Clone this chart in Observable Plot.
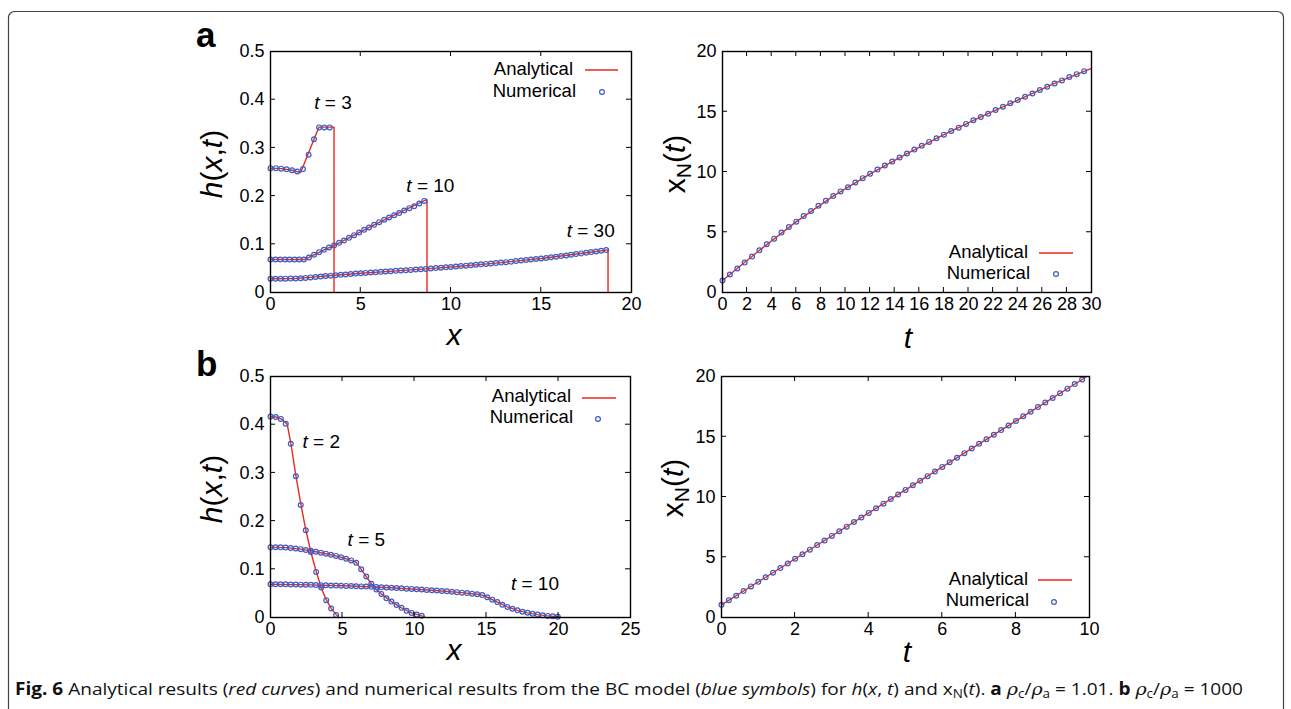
<!DOCTYPE html>
<html><head><meta charset="utf-8">
<script src="https://cdn.jsdelivr.net/npm/d3@7"></script>
<script src="https://cdn.jsdelivr.net/npm/@observablehq/plot@0.6"></script>
<style>
html,body{margin:0;padding:0;background:#fff;}
#page{position:relative;width:1291px;height:709px;overflow:hidden;font-family:"Liberation Sans",Arial,sans-serif;}
#page > svg{position:absolute;}
</style></head>
<body><div id="page"></div>
<script>
// ---------- DATA ----------
// Panel a (rho_c/rho_a = 1.01): h(x,t)
const aTicksX = [0, 5, 10, 15, 20];
const hTicks = [0, 0.1, 0.2, 0.3, 0.4, 0.5];
const a3Line = [[0,0.258],[0.6,0.257],[1.2,0.2535],[1.67,0.249],[2.68,0.343],[3.52,0.343],[3.52,0]];
const a3X = [0,0.30,0.59,0.89,1.19,1.48,1.80,2.11,2.41,2.69,2.98,3.28];
const a3H = [0.258,0.258,0.257,0.2555,0.2535,0.251,0.256,0.286,0.318,0.3425,0.3425,0.3425];
const a10Line = [[0,0.0685],[1.9,0.0685],[2.41,0.0782],[2.96,0.0885],[3.52,0.0975],[4.63,0.119],[5.74,0.1404],[6.85,0.1604],[7.96,0.180],[8.67,0.193],[8.67,0]];
const a10X = [0,0.28,0.54,0.80,1.06,1.33,1.59,1.85,2.13,2.41,2.69,2.96,3.24,3.52,3.80,4.07,4.35,4.63,4.91,5.19,5.46,5.74,6.02,6.30,6.57,6.85,7.13,7.41,7.69,7.96,8.24,8.52];
const a10H = [0.0685,0.0685,0.0685,0.0685,0.0685,0.0685,0.0685,0.0685,0.0726,0.0782,0.0837,0.0885,0.0934,0.0975,0.103,0.108,0.1134,0.119,0.1245,0.130,0.135,0.1404,0.146,0.1508,0.1556,0.1604,0.165,0.170,0.175,0.179,0.1846,0.190];
const a30Line = [[0,0.0285],[1.39,0.029],[2.22,0.0313],[3.05,0.0342],[5,0.040],[7,0.0449],[8.61,0.049],[10,0.053],[12.49,0.061],[15,0.0705],[16.65,0.0783],[18.04,0.0852],[18.7,0.0885],[18.7,0]];
const a30X = [0,0.28,0.56,0.83,1.11,1.39,1.67,1.94,2.22,2.50,2.78,3.05,3.33,3.61,3.89,4.16,4.44,4.72,5.00,5.27,5.55,5.83,6.11,6.38,6.66,6.94,7.22,7.50,7.77,8.05,8.33,8.61,8.88,9.16,9.44,9.72,9.99,10.27,10.55,10.83,11.10,11.38,11.66,11.94,12.21,12.49,12.77,13.05,13.32,13.60,13.88,14.16,14.43,14.71,14.99,15.27,15.54,15.82,16.10,16.38,16.65,16.93,17.21,17.49,17.76,18.04,18.32,18.60];
const a30H = [0.0285,0.0285,0.0286,0.0287,0.0288,0.029,0.0295,0.0303,0.0313,0.0323,0.0333,0.0342,0.035,0.0358,0.0366,0.0375,0.0383,0.0392,0.040,0.0407,0.0414,0.0421,0.0428,0.0435,0.0442,0.0449,0.0455,0.0462,0.0469,0.0476,0.0483,0.049,0.0498,0.0506,0.0514,0.0522,0.053,0.0539,0.0548,0.0557,0.0566,0.0575,0.0584,0.0593,0.0602,0.061,0.062,0.063,0.064,0.0652,0.0663,0.0673,0.0684,0.0694,0.0705,0.0717,0.073,0.0742,0.0755,0.0769,0.0783,0.0797,0.0811,0.0825,0.0838,0.0852,0.0866,0.088];
const aCurveLabels = [{t:"3", x:2.72, y:0.393},{t:"10", x:7.82, y:0.2206},{t:"30", x:16.7, y:0.127}];

// Panel a: x_N(t)
const arTicksX = [0,2,4,6,8,10,12,14,16,18,20,22,24,26,28,30];
const xnTicks = [0, 5, 10, 15, 20];
const arT = [0,0.6,1.2,1.8,2.4,3.0,3.6,4.2,4.8,5.4,6.0,6.6,7.2,7.8,8.4,9.0,9.6,10.2,10.8,11.4,12.0,12.6,13.2,13.8,14.4,15.0,15.6,16.2,16.8,17.4,18.0,18.6,19.2,19.8,20.4,21.0,21.6,22.2,22.8,23.4,24.0,24.6,25.2,25.8,26.4,27.0,27.6,28.2,28.8,29.4];
const arXN = [0.99,1.49,1.99,2.48,2.98,3.5,4.0,4.47,4.97,5.43,5.88,6.34,6.76,7.2,7.61,8.0,8.39,8.74,9.13,9.49,9.85,10.2,10.54,10.87,11.2,11.53,11.86,12.17,12.5,12.8,13.1,13.4,13.68,13.99,14.29,14.57,14.84,15.14,15.42,15.7,15.97,16.25,16.52,16.8,17.07,17.35,17.6,17.88,18.12,18.37];
const arLine = [[0,0.99],[3.0,3.5],[6.0,5.88],[9.0,8.0],[12.0,9.85],[15.0,11.53],[18.0,13.1],[21.0,14.57],[24.0,15.97],[27.0,17.35],[30,18.6]];

// Panel b (rho_c/rho_a = 1000): h(x,t)
const bTicksX = [0, 5, 10, 15, 20, 25];
const b2Line = [[0,0.417],[0.5,0.4155],[0.85,0.41],[1.16,0.401],[1.41,0.362],[1.76,0.295],[2.1,0.236],[2.45,0.182],[2.8,0.136],[3.17,0.096],[3.52,0.062],[3.87,0.037],[4.21,0.019],[4.56,0.006],[4.75,0]];
const b2X = [0,0.37,0.72,1.06,1.41,1.76,2.10,2.45,2.80,3.17,3.52,3.87,4.21,4.56];
const b2H = [0.417,0.416,0.412,0.402,0.3605,0.293,0.2334,0.181,0.136,0.0946,0.062,0.036,0.0186,0.005];
const b5Line = [[0,0.146],[1.05,0.145],[2.1,0.1418],[3.15,0.1365],[4.2,0.1303],[5.25,0.1218],[5.93,0.115],[6.3,0.100],[7.0,0.070],[7.35,0.058],[7.7,0.049],[8.4,0.033],[9.1,0.020],[9.8,0.0095],[10.5,0.0035],[10.7,0.002]];
const b5X = [0,0.35,0.70,1.05,1.40,1.75,2.10,2.45,2.80,3.15,3.50,3.85,4.20,4.55,4.90,5.25,5.60,5.95,6.30,6.65,7.00,7.35,7.70,8.05,8.40,8.75,9.10,9.45,9.80,10.15,10.50];
const b5H = [0.146,0.1458,0.1455,0.145,0.1442,0.1432,0.1418,0.140,0.1383,0.1365,0.1345,0.1325,0.1303,0.1278,0.125,0.1218,0.1185,0.1135,0.100,0.085,0.070,0.058,0.049,0.040,0.033,0.026,0.020,0.014,0.0095,0.006,0.0035];
const b10Line = [[0,0.069],[2.8,0.0677],[5.6,0.0653],[8.4,0.0616],[11.2,0.0566],[13.3,0.0516],[14.35,0.0483],[14.7,0.0465],[15.05,0.042],[15.75,0.032],[16.45,0.022],[17.15,0.0148],[17.85,0.0097],[18.55,0.006],[19.25,0.0033],[20.1,0.0012]];
const b10X = [0,0.35,0.70,1.05,1.40,1.75,2.10,2.45,2.80,3.15,3.50,3.85,4.20,4.55,4.90,5.25,5.60,5.95,6.30,6.65,7.00,7.35,7.70,8.05,8.40,8.75,9.10,9.45,9.80,10.15,10.50,10.85,11.20,11.55,11.90,12.25,12.60,12.95,13.30,13.65,14.00,14.35,14.70,15.05,15.40,15.75,16.10,16.45,16.80,17.15,17.50,17.85,18.20,18.55,18.90,19.25,19.60,19.95];
const b10H = [0.069,0.069,0.0689,0.0688,0.0686,0.0684,0.0682,0.068,0.0677,0.0674,0.0671,0.0668,0.0665,0.0662,0.0659,0.0656,0.0653,0.0649,0.0645,0.0641,0.0636,0.0631,0.0626,0.0621,0.0616,0.0611,0.0605,0.0599,0.0593,0.0587,0.058,0.0573,0.0566,0.0559,0.0551,0.0543,0.0535,0.0526,0.0516,0.0506,0.0495,0.0483,0.0465,0.042,0.037,0.032,0.0265,0.022,0.018,0.0148,0.012,0.0097,0.0078,0.006,0.0045,0.0033,0.0024,0.0016];
const bCurveLabels = [{t:"2", x:2.59, y:0.3637},{t:"5", x:5.72, y:0.1618},{t:"10", x:17.06, y:0.070}];

// Panel b: x_N(t)
const brTicksX = [0, 2, 4, 6, 8, 10];
const brT = [0,0.2,0.4,0.6,0.8,1.0,1.2,1.4,1.6,1.8,2.0,2.2,2.4,2.6,2.8,3.0,3.2,3.4,3.6,3.8,4.0,4.2,4.4,4.6,4.8,5.0,5.2,5.4,5.6,5.8,6.0,6.2,6.4,6.6,6.8,7.0,7.2,7.4,7.6,7.8,8.0,8.2,8.4,8.6,8.8,9.0,9.2,9.4,9.6,9.8];
const brXN = [1.05,1.43,1.81,2.19,2.58,2.96,3.34,3.72,4.10,4.48,4.87,5.25,5.63,6.01,6.39,6.77,7.16,7.54,7.92,8.30,8.68,9.06,9.45,9.83,10.21,10.59,10.97,11.35,11.73,12.12,12.50,12.88,13.26,13.64,14.02,14.41,14.79,15.17,15.55,15.93,16.31,16.70,17.08,17.46,17.84,18.22,18.60,18.99,19.37,19.75];
const brLine = [[0,1.05],[5,10.59],[9.93,20]];

// ---------- STYLE ----------
const RED = "#e8291f";
const BLUE = "#3c5cc4";
const FONT = "'Liberation Sans', Arial, sans-serif";
const page = document.getElementById("page");

// Background layer: border, panel letters, caption
const bg = d3.select(page).append("svg").attr("width",1291).attr("height",709).style("left","0px").style("top","0px");
bg.append("rect").attr("x",8.5).attr("y",11.5).attr("width",1275).attr("height",800).attr("rx",6)
  .attr("fill","none").attr("stroke","#444").attr("stroke-width",1.2);
bg.append("text").attr("x",196).attr("y",47).attr("font-family",FONT).attr("font-weight","bold").attr("font-size",35).text("a");
bg.append("text").attr("x",196).attr("y",376).attr("font-family",FONT).attr("font-weight","bold").attr("font-size",35).text("b");
const SUB = `font-size="12" dy="3"`;
const UNSUB = `dy="-3"`;
const RHO = `<tspan font-family="'DejaVu Serif', serif" font-style="italic">ρ</tspan>`;
bg.append("g").html(`<text x="15" y="695" font-family="'Open Sans', sans-serif" font-size="17" fill="#111" textLength="1228" lengthAdjust="spacingAndGlyphs"><tspan font-weight="bold">Fig. 6</tspan> Analytical results (<tspan font-style="italic">red curves</tspan>) and numerical results from the BC model (<tspan font-style="italic">blue symbols</tspan>) for <tspan font-style="italic">h</tspan>(<tspan font-style="italic">x</tspan>, <tspan font-style="italic">t</tspan>) and x<tspan ${SUB}>N</tspan><tspan ${UNSUB}>(</tspan><tspan font-style="italic">t</tspan>). <tspan font-weight="bold">a</tspan> ${RHO}<tspan ${SUB}>c</tspan><tspan ${UNSUB}>/</tspan>${RHO}<tspan ${SUB}>a</tspan><tspan ${UNSUB}> = 1.01. </tspan><tspan font-weight="bold">b</tspan> ${RHO}<tspan ${SUB}>c</tspan><tspan ${UNSUB}>/</tspan>${RHO}<tspan ${SUB}>a</tspan><tspan ${UNSUB}> = 1000</tspan></text>`);

function panel(o) {
  const {left, top, width, height, m, xDomain, yDomain, xTicks, yTicks, series, labels, legend, ylab, xlab} = o;
  const fmt = d => String(d);
  const marks = [
    Plot.axisX(xTicks, {tickSize: 0, tickPadding: 5, label: null, fontSize: 18, tickFormat: fmt}),
    Plot.axisY(yTicks, {tickSize: 0, tickPadding: 6, label: null, fontSize: 18, tickFormat: fmt})
  ];
  for (const s of series) marks.push(Plot.line(s.line, {x: d => d[0], y: d => d[1], stroke: RED, strokeWidth: 1.4}));
  for (const s of series) marks.push(Plot.dot(d3.zip(s.px, s.py), {x: d => d[0], y: d => d[1], r: 2.4, stroke: BLUE, strokeWidth: 1.2, fill: "none"}));
  if (labels) {
    marks.push(Plot.text(labels, {x: "x", y: "y", text: () => "t", fontStyle: "italic", textAnchor: "end", fontSize: 19, fill: "#000"}));
    marks.push(Plot.text(labels, {x: "x", y: "y", text: d => "\u00a0= " + d.t, textAnchor: "start", fontSize: 19, fill: "#000"}));
  }
  marks.push(Plot.frame({stroke: "#000", strokeWidth: 1.4}));
  const svg = Plot.plot({
    width, height, marginLeft: m.l, marginRight: m.r, marginTop: m.t, marginBottom: m.b,
    x: {domain: xDomain}, y: {domain: yDomain},
    style: {fontFamily: FONT, fontSize: "18px", color: "#000", background: "transparent", overflow: "visible"},
    marks
  });
  svg.style.position = "absolute";
  svg.style.left = left + "px";
  svg.style.top = top + "px";
  page.appendChild(svg);
  const sx = svg.scale("x"), sy = svg.scale("y");
  const S = d3.select(svg);
  const x0 = m.l, x1 = width - m.r, y0 = m.t, y1 = height - m.b, L = 5;
  const g = S.append("g").attr("stroke", "#000").attr("stroke-width", 1);
  for (const v of xTicks) {
    const p = sx.apply(v);
    if (p <= x0 + 1 || p >= x1 - 1) continue;
    g.append("line").attr("x1", p).attr("x2", p).attr("y1", y1).attr("y2", y1 - L);
    g.append("line").attr("x1", p).attr("x2", p).attr("y1", y0).attr("y2", y0 + L);
  }
  for (const v of yTicks) {
    const p = sy.apply(v);
    if (p <= y0 + 1 || p >= y1 - 1) continue;
    g.append("line").attr("y1", p).attr("y2", p).attr("x1", x0).attr("x2", x0 + L);
    g.append("line").attr("y1", p).attr("y2", p).attr("x1", x1).attr("x2", x1 - L);
  }
  // legend
  const lg = S.append("g").attr("font-family", FONT).attr("font-size", 18.5).attr("fill", "#000");
  lg.append("text").attr("x", legend.ax).attr("y", legend.ay).attr("text-anchor", "end").text("Analytical");
  lg.append("line").attr("x1", legend.lx1).attr("x2", legend.lx2).attr("y1", legend.ly).attr("y2", legend.ly).attr("stroke", RED).attr("stroke-width", 1.4);
  lg.append("text").attr("x", legend.nx).attr("y", legend.ny).attr("text-anchor", "end").text("Numerical");
  lg.append("circle").attr("cx", legend.cx).attr("cy", legend.cy).attr("r", 2.4).attr("fill", "none").attr("stroke", BLUE).attr("stroke-width", 1.2);
  // axis titles
  S.append("g").html(ylab.html).select("text")
    .attr("transform", `translate(${ylab.x},${ylab.y}) rotate(-90)`).attr("text-anchor", "middle")
    .attr("font-family", FONT).attr("font-size", 30).attr("fill", "#000");
  S.append("text").attr("x", xlab.x).attr("y", xlab.y).attr("text-anchor", "middle")
    .attr("font-family", FONT).attr("font-size", 30).attr("font-style", "italic").attr("fill", "#000").text(xlab.text);
}

const hHtml = `<text><tspan font-style="italic">h</tspan>(<tspan font-style="italic">x</tspan>,<tspan font-style="italic">t</tspan>)</text>`;
const xnHtml = `<text>x<tspan font-size="21" dy="6">N</tspan><tspan dy="-6">(</tspan><tspan font-style="italic">t</tspan>)</text>`;

panel({
  left: 190, top: 20, width: 460, height: 330, m: {l: 80, r: 19, t: 31, b: 58},
  xDomain: [0, 20], yDomain: [0, 0.5], xTicks: aTicksX, yTicks: hTicks,
  series: [{line: a3Line, px: a3X, py: a3H}, {line: a10Line, px: a10X, py: a10H}, {line: a30Line, px: a30X, py: a30H}],
  labels: aCurveLabels,
  legend: {ax: 383, ay: 55, lx1: 395, lx2: 428, ly: 50, nx: 386, ny: 77, cx: 412, cy: 72},
  ylab: {html: hHtml, x: 32, y: 144}, xlab: {text: "x", x: 264, y: 325}
});
panel({
  left: 660, top: 20, width: 450, height: 330, m: {l: 62, r: 19, t: 31, b: 58},
  xDomain: [0, 30], yDomain: [0, 20], xTicks: arTicksX, yTicks: xnTicks,
  series: [{line: arLine, px: arT, py: arXN}],
  legend: {ax: 368, ay: 238, lx1: 379, lx2: 413, ly: 233, nx: 370, ny: 259, cx: 396, cy: 254},
  ylab: {html: xnHtml, x: 25, y: 144}, xlab: {text: "t", x: 248, y: 328}
});
panel({
  left: 190, top: 345, width: 460, height: 330, m: {l: 80, r: 20, t: 31, b: 58},
  xDomain: [0, 25], yDomain: [0, 0.5], xTicks: bTicksX, yTicks: hTicks,
  series: [{line: b2Line, px: b2X, py: b2H}, {line: b5Line, px: b5X, py: b5H}, {line: b10Line, px: b10X, py: b10H}],
  labels: bCurveLabels,
  legend: {ax: 381, ay: 57, lx1: 392, lx2: 426, ly: 53, nx: 383, ny: 78, cx: 408, cy: 74},
  ylab: {html: hHtml, x: 32, y: 144}, xlab: {text: "x", x: 264, y: 315}
});
panel({
  left: 660, top: 345, width: 450, height: 330, m: {l: 61, r: 21, t: 31, b: 58},
  xDomain: [0, 10], yDomain: [0, 20], xTicks: brTicksX, yTicks: xnTicks,
  series: [{line: brLine, px: brT, py: brXN}],
  legend: {ax: 368, ay: 240, lx1: 378, lx2: 412, ly: 235, nx: 369, ny: 261, cx: 394, cy: 257},
  ylab: {html: xnHtml, x: 23, y: 143}, xlab: {text: "t", x: 247, y: 317}
});
</script>
</body></html>
